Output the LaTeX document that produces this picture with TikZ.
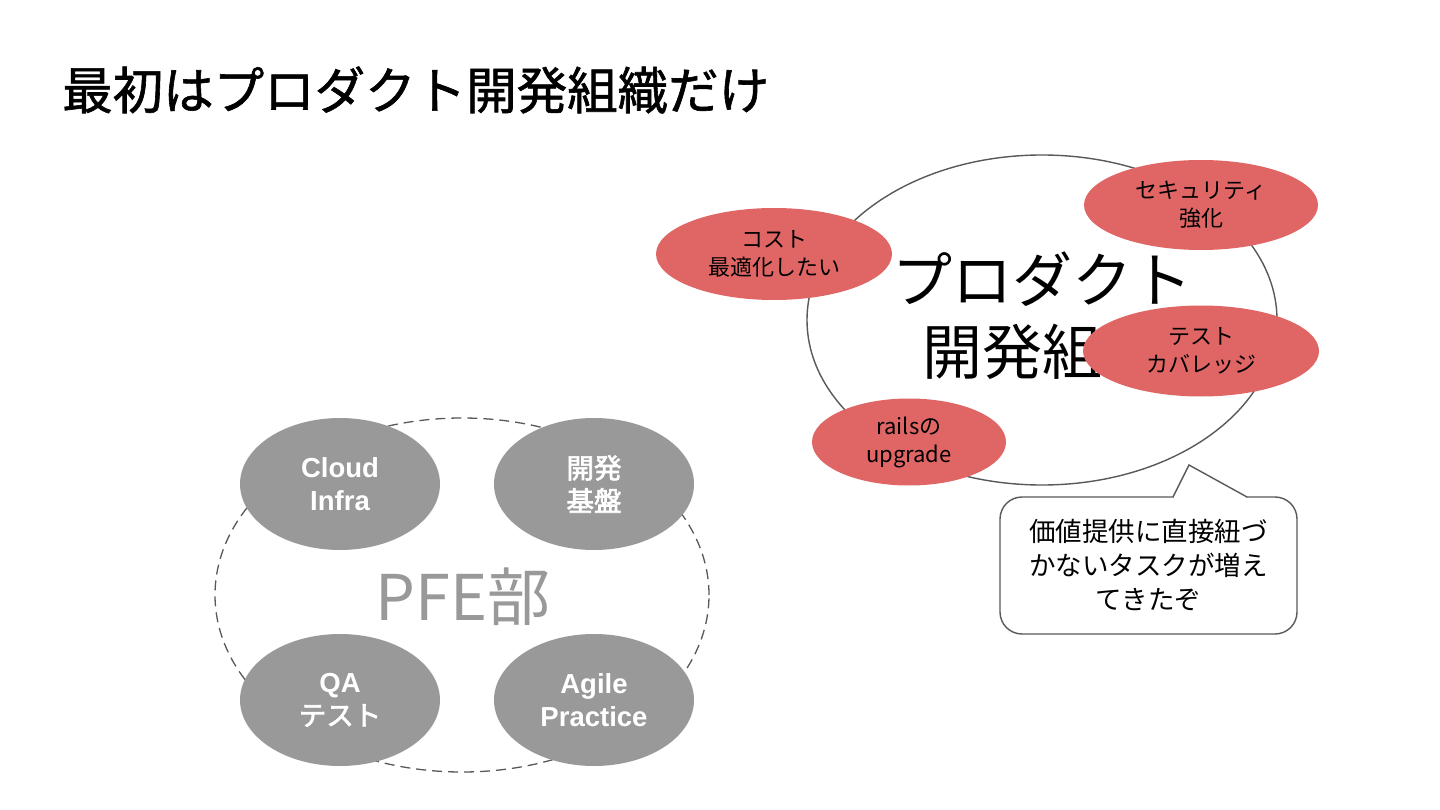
\documentclass[tikz,border=0pt]{standalone}
\usepackage{fontspec}
\setmainfont{Noto Sans CJK JP}
\newfontfamily\lat{Liberation Sans}
\newfontfamily\jpbold{Noto Sans CJK JP}[FakeBold=2.5]
\newfontfamily\jptitle{Noto Sans CJK JP}[FakeBold=1.2]
\usetikzlibrary{shapes.geometric}
\definecolor{redfill}{HTML}{E06666}
\definecolor{grayfill}{HTML}{999999}
\definecolor{linegray}{HTML}{595959}
\begin{document}
\begin{tikzpicture}[x=1pt,y=-1pt,
  redball/.style={ellipse, fill=redfill, inner sep=0pt, align=center, text=black,
    font=\fontsize{22}{28}\selectfont},
  grayball/.style={ellipse, fill=grayfill, inner sep=0pt, minimum width=200pt,
    minimum height=132pt, align=center, text=white, font=\fontsize{27.5}{33}\selectfont},
  outline/.style={draw=linegray, line width=1.4pt}]
\useasboundingbox (0,0) rectangle (1440,810);
\fill[white] (0,0) rectangle (1440,810);

% title
\node[anchor=west, inner sep=0pt, font=\jptitle\fontsize{50.5}{60}\selectfont] (title) at (62,90) {最初はプロダクト開発組織だけ};

% product development organisation
\node[ellipse, outline, minimum width=470pt, minimum height=330pt, inner sep=0pt] (dev) at (1042,320) {};
\node[align=center, font=\fontsize{60}{72}\selectfont] (devlabel) at (1042,316) {プロダクト\\開発組織};

\node[redball, minimum width=236pt, minimum height=92pt] (cost) at (774,254) {コスト\\最適化したい};
\node[redball, minimum width=234pt, minimum height=90pt] (sec) at (1201,205) {セキュリティ\\強化};
\node[redball, minimum width=236pt, minimum height=91pt] (cov) at (1201,351) {テスト\\カバレッジ};
\node[redball, minimum width=194pt, minimum height=87pt] (rails) at (909,442) {railsの\\upgrade};

% speech bubble
\node[outline, rounded corners=22pt, minimum width=297pt, minimum height=137pt, inner sep=0pt,
  align=center, font=\fontsize{26.5}{34}\selectfont] (bubble) at (1148.5,565.5) {価値提供に直接紐づ\\かないタスクが増え\\てきたぞ};
\coordinate (bl) at (1173,497);
\coordinate (br) at (1247,497);
\coordinate (tip) at (1189,465);
\fill[white] (1173.8,494.5) rectangle (1246.2,499.5);
\draw[linegray, line width=1.4pt, line join=miter] (bl) -- (tip) -- (br);

% PFE
\node[ellipse, draw=linegray, line width=1.3pt, dash pattern=on 10pt off 6pt, minimum width=494pt, minimum height=354pt, inner sep=0pt] (pfe) at (462,595) {};
\node[text=grayfill, font=\fontsize{63}{72}\selectfont] (pfelabel) at (463,597) {PFE部};

\node[grayball] (cloud) at (340,484) {{\lat\bfseries Cloud}\\{\lat\bfseries Infra}};
\node[grayball] (kiban) at (594,484) {{\jpbold 開発}\\{\jpbold 基盤}};
\node[grayball] (qa) at (340,700) {{\lat\bfseries QA}\\{\jpbold テスト}};
\node[grayball] (agile) at (594,700) {{\lat\bfseries Agile}\\{\lat\bfseries Practice}};
\end{tikzpicture}
\end{document}
